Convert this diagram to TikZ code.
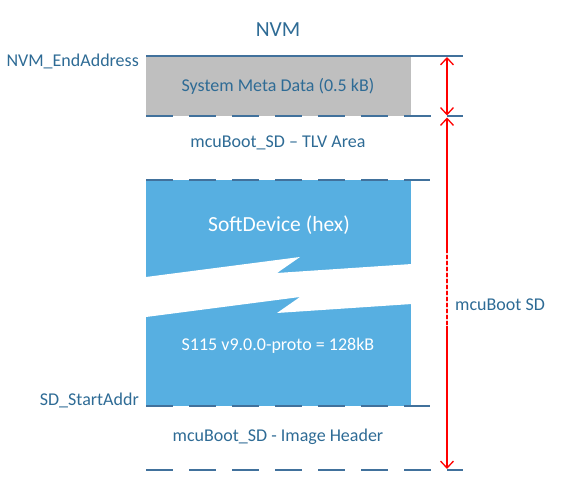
\documentclass[tikz,border=0pt]{standalone}
\usepackage{fontspec}
\setmainfont{Carlito}
\usetikzlibrary{arrows.meta}
\definecolor{linecol}{HTML}{41719C}
\definecolor{txtcol}{HTML}{2E6B95}
\definecolor{sdblue}{HTML}{57AFE1}
\definecolor{metagray}{HTML}{BFBFBF}
\begin{document}
\begin{tikzpicture}[x=1pt,y=-1pt,
  bound/.style={draw=linecol, line width=1.8pt},
  dline/.style={bound, dash pattern=on 27pt off 16pt},
  lbl/.style={text=txtcol, font=\fontsize{18}{20}\selectfont, inner sep=0pt},
  wlbl/.style={text=white, font=\fontsize{18}{20}\selectfont, inner sep=0pt},
  dimarrow/.style={draw=red, line width=1.3pt, {Straight Barb[length=7pt,width=13pt]}-{Straight Barb[length=7pt,width=13pt]}},
]
\useasboundingbox (0,0) rectangle (563,502);
% regions
\fill[metagray] (146,56) rectangle (411,116);
\fill[sdblue] (146,180) rectangle (411,406);
\fill[white] (146,277) -- (300,257) -- (277,273) -- (412,264) -- (412,304) -- (277,313) -- (300,297) -- (146,317) -- cycle;
% boundary lines
\coordinate (l0a) at (146,56);  \coordinate (l0b) at (463,56);
\coordinate (l1a) at (146,116); \coordinate (l1b) at (463,116);
\coordinate (l2a) at (146,180); \coordinate (l2b) at (430,180);
\coordinate (l3a) at (146,406); \coordinate (l3b) at (430,406);
\coordinate (l4a) at (146,470); \coordinate (l4b) at (463,470);
\draw[bound] (l0a) -- (l0b);
\draw[dline] (l1a) -- (l1b);
\draw[dline] (l2a) -- (l2b);
\draw[dline] (l3a) -- (l3b);
\draw[dline] (l4a) -- (l4b);
% dimension arrows
\coordinate (a0) at (447,57);
\coordinate (a1) at (447,115.5);
\coordinate (a2) at (447,117.5);
\coordinate (a3) at (447,469);
\coordinate (g0) at (447,253);
\coordinate (g1) at (447,326);
\draw[dimarrow] (a0) -- (a1);
\draw[dimarrow] (a2) -- (a3);
\draw[white, opacity=0.8, line width=1.6pt, dash pattern=on 2pt off 4pt] (g0) -- (g1);
% labels
\node[lbl, font=\fontsize{21.5}{24}\selectfont] (title) at (278,30) {NVM};
\node[lbl, anchor=east] (endaddr) at (139,61) {NVM\_EndAddress};
\node[lbl] (meta) at (278,86) {System Meta Data (0.5 kB)};
\node[lbl] (tlv) at (278,143) {mcuBoot\_SD – TLV Area};
\node[wlbl, font=\fontsize{21.5}{24}\selectfont] (sd) at (279,225) {SoftDevice (hex)};
\node[wlbl] (ver) at (278,346) {S115 v9.0.0-proto = 128kB};
\node[lbl, anchor=east] (start) at (139,400) {SD\_StartAddr};
\node[lbl] (hdr) at (278,437) {mcuBoot\_SD - Image Header};
\node[lbl, anchor=west] (mcub) at (455,305) {mcuBoot SD};
\end{tikzpicture}
\end{document}
